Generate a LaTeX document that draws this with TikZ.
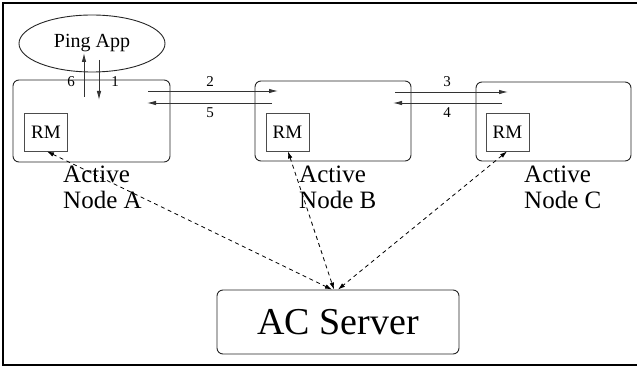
\documentclass[tikz,border=0pt]{standalone}
\usepackage{fontspec}
\setmainfont{Liberation Serif}
\usetikzlibrary{arrows.meta,shapes.geometric}
\begin{document}
\begin{tikzpicture}[x=1pt,y=-1pt,
  box/.style={draw=black!85,line width=0.9pt,rounded corners=6pt,inner sep=0pt},
  rmbox/.style={draw=black!70,line width=0.9pt,inner sep=0pt,minimum width=43pt,minimum height=38pt,font=\fontsize{19}{19}\selectfont},
  lbl/.style={inner sep=0pt,font=\fontsize{15}{15}\selectfont},
  caption/.style={inner sep=0pt,align=left,anchor=base west,font=\fontsize{25}{26}\selectfont},
  msg/.style={line width=0.9pt,draw=black!80,-{Latex[length=9pt,width=4.5pt]}},
  ctl/.style={line width=0.8pt,dash pattern=on 4pt off 3.5pt,{Latex[length=7pt,width=4.5pt]}-{Latex[length=7pt,width=4.5pt]}}]
\useasboundingbox (0,0) rectangle (637,366);
% outer frame (its right side lies past the page edge)
\draw[line width=2.3pt] (3,3) rectangle (642,365);

% application and active nodes
\node[draw=black!85,line width=0.9pt,ellipse,minimum width=146pt,minimum height=57pt,inner sep=0pt,
      font=\fontsize{20}{20}\selectfont] (ping) at (92,43.5) {Ping App};
\node[box,minimum width=157pt,minimum height=82pt] (nodeA) at (91.5,121) {};
\node[box,minimum width=156pt,minimum height=80pt] (nodeB) at (333,121) {};
\node[box,minimum width=155pt,minimum height=79pt] (nodeC) at (553.5,121.5) {};
\node[rmbox] (rmA) at (46,132) {RM};
\node[rmbox] (rmB) at (287.5,132) {RM};
\node[rmbox] (rmC) at (507.5,132) {RM};
% the base anchor of a two-line caption sits on its second line
\node[caption] (capA) at (63,209) {Active\\Node A};
\node[caption] (capB) at (299,208.5) {Active\\Node B};
\node[caption] (capC) at (524,209) {Active\\Node C};

% control server
\node[box,minimum width=242pt,minimum height=64pt,font=\fontsize{38}{38}\selectfont] (server) at (338,322) {AC Server};

% ping message path
\coordinate (p6s) at (84,97);   \coordinate (p6e) at (84,53);
\coordinate (p1s) at (99,60);   \coordinate (p1e) at (99,100);
\coordinate (p2s) at (148,91);  \coordinate (p2e) at (278,91);
\coordinate (p5s) at (272,103); \coordinate (p5e) at (147,103);
\coordinate (p3s) at (395,92);  \coordinate (p3e) at (508,92);
\coordinate (p4s) at (502,103); \coordinate (p4e) at (393,103);
\draw[msg] (p6s) -- (p6e);
\draw[msg] (p1s) -- (p1e);
\draw[msg] (p2s) -- (p2e);
\draw[msg] (p5s) -- (p5e);
\draw[msg] (p3s) -- (p3e);
\draw[msg] (p4s) -- (p4e);
\node[lbl] (l6) at (71,82) {6};
\node[lbl] (l1) at (115,82) {1};
\node[lbl] (l2) at (210,82) {2};
\node[lbl] (l5) at (210,113) {5};
\node[lbl] (l3) at (447,82) {3};
\node[lbl] (l4) at (447,113) {4};

% resource manager links to the server
\coordinate (sA) at ([xshift=-6pt]server.north);
\coordinate (sB) at ([xshift=-4pt]server.north);
\coordinate (sC) at ([xshift=0pt]server.north);
\draw[ctl] ([xshift=1pt]rmA.south) -- (sA);
\draw[ctl] ([xshift=0.5pt]rmB.south) -- (sB);
\draw[ctl] ([xshift=-0.5pt]rmC.south) -- (sC);
\end{tikzpicture}
\end{document}
